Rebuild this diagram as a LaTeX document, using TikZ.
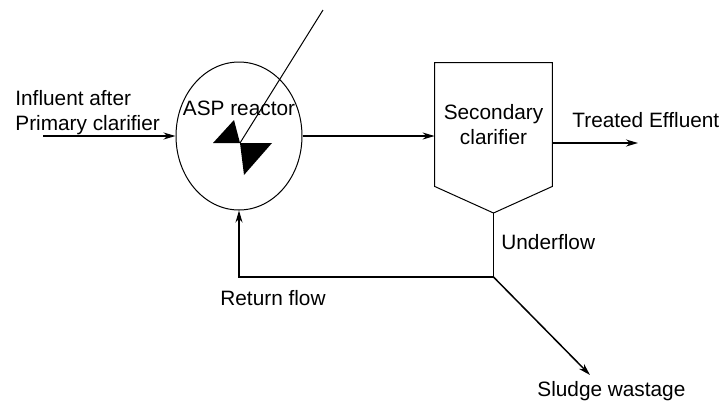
\documentclass[tikz,border=0pt]{standalone}
\usepackage{fontspec}
\setmainfont{Liberation Sans}
\usetikzlibrary{positioning, arrows.meta, shapes.geometric}

\begin{document}
\begin{tikzpicture}[x=0.5pt, y=-0.5pt,
     every node/.style = {font=\fontsize{10.4}{12.6}\selectfont},
          flow/.style = {line width=0.75pt, -{Stealth[length=6pt, width=3.5pt]}},
          pipe/.style = {line width=0.75pt},
        vessel/.style = {draw, line width=0.5pt, inner sep=0pt},
           lbl/.style = {inner sep=0pt, anchor=west, align=left}
                    ]
\useasboundingbox (0,0) rectangle (724,403);
\node (reactor) [vessel, ellipse, minimum width=63pt, minimum height=74pt] at (239,136) {};
\node (clar) [rectangle, inner sep=0pt, minimum width=58.5pt, minimum height=61.5pt,
              align=center] at (493.5,124.5) {Secondary\\clarifier};
\coordinate (tip) at (493.5,213);
\coordinate (junc) at (493.5,277);
\coordinate (in) at (43,136);
\coordinate (eff) at (638,143);
\coordinate (sludge) at (590,375);
\coordinate (hub) at (240,143);
\coordinate (shaft) at (323,10);

\draw[vessel] (clar.south west) -- (clar.north west) -- (clar.north east)
              -- (clar.south east) -- (tip) -- cycle;

% mixer blades and shaft
\fill (213,143) -- (234,120) -- (hub) -- cycle;
\fill (hub) -- (272,143) -- (244,175) -- cycle;
\draw[line width=0.5pt] (hub) -- (shaft);

\draw[flow] (in) -- (reactor.west);
\draw[flow] (reactor.east) -- (reactor.east -| clar.west);
\draw[flow] (eff -| clar.east) -- (eff);
\draw[flow] (tip) -- (junc) -| (reactor.south);
\draw[flow] (junc) -- (sludge);

\node (asp) at (239,108) [inner sep=0pt] {ASP reactor};
\node (infl) [lbl] at (15,113) {Influent after\\Primary clarifier};
\node (treated) [lbl] at (572,120) {Treated Effluent};
\node (under) [lbl] at (501,242) {Underflow};
\node (ret) [lbl] at (220,298) {Return flow};
\node (waste) [lbl] at (537,391) {Sludge wastage};
\end{tikzpicture}
\end{document}
